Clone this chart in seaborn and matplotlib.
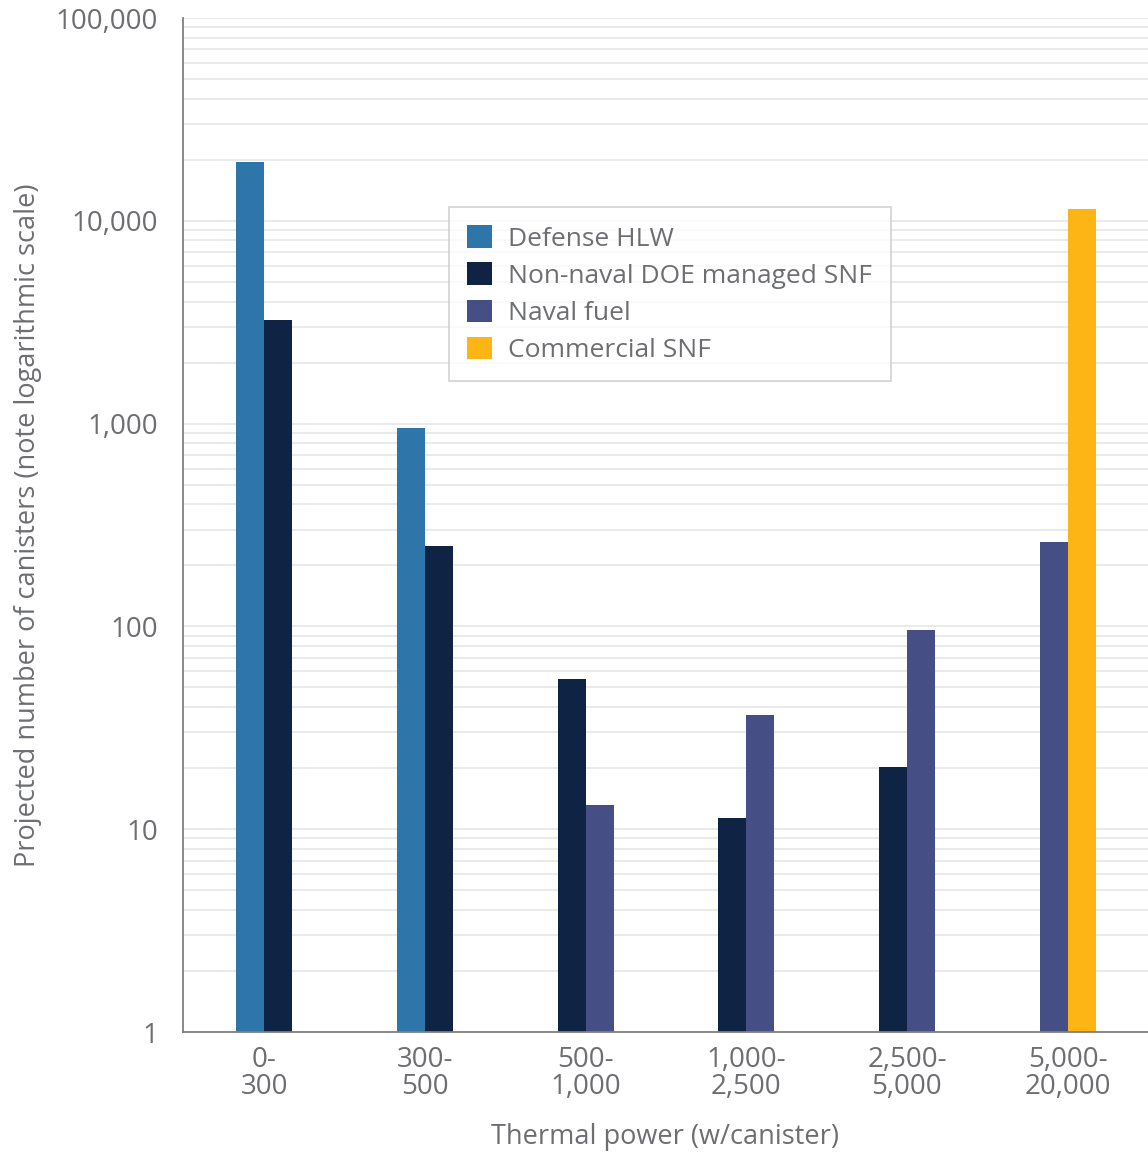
import pandas as pd
import numpy as np
import seaborn as sns
import matplotlib.pyplot as plt
from matplotlib.ticker import FixedLocator, LogLocator, FuncFormatter

# thermal power bins (w/canister)
bins = ['0-\n300', '300-\n500', '500-\n1,000', '1,000-\n2,500', '2,500-\n5,000', '5,000-\n20,000']
series = ['Defense HLW', 'Non-naval DOE managed SNF', 'Naval fuel', 'Commercial SNF']
colors = ['#2e75aa', '#0f2344', '#454f85', '#fdb515']

# values (None = no bar in that bin)
defense_hlw = [19600, 950, None, None, None, None]
non_naval = [3250, 250, 55, 11.3, 20.2, None]
naval = [None, None, 13.1, 36.4, 96, 261]
commercial = [None, None, None, None, None, 11400]

gray = '#6d6e71'
sns.set_style('white')
plt.rcParams['font.family'] = ['Open Sans', 'DejaVu Sans']

# long table, only bars that exist; each bin holds two bars side by side
rows = []
for i in range(len(bins)):
    present = [(s, v[i]) for s, v in zip(series, [defense_hlw, non_naval, naval, commercial]) if v[i] is not None]
    offs = np.linspace(-0.087, 0.087, len(present)) if len(present) > 1 else [0]
    for (s, val), o in zip(present, offs):
        rows.append({'pos': i + o, 'series': s, 'count': val})
df = pd.DataFrame(rows)

fig = plt.figure(figsize=(11.48, 11.54), dpi=100)
ax = fig.add_axes([0.1594, 0.1057, 0.8406, 0.8787])
ax.set_axisbelow(True)

sns.barplot(data=df, x='pos', y='count', hue='series', hue_order=series,
            palette=colors, native_scale=True, dodge=False, width=1.0,
            saturation=1, linewidth=0, ax=ax)

ax.set_yscale('log')
ax.set_ylim(1, 100000)
ax.set_xlim(-0.505, 5.5)

# y axis: decades labelled, grid at major and minor steps
ax.yaxis.set_major_locator(LogLocator(base=10))
ax.yaxis.set_minor_locator(LogLocator(base=10, subs=np.arange(2, 10)))
ax.yaxis.set_major_formatter(FuncFormatter(lambda v, p: f'{v:,.0f}'))
ax.yaxis.set_minor_formatter(FuncFormatter(lambda v, p: ''))
ax.grid(True, axis='y', which='both', color='#e8e8e8', linewidth=1.3)
ax.tick_params(axis='y', which='both', length=0, pad=18, labelsize=20, labelcolor=gray)

# x axis: labels at bin centres, tick marks between bins
ax.xaxis.set_major_locator(FixedLocator(range(len(bins))))
ax.set_xticklabels(bins, linespacing=0.95)
ax.xaxis.set_minor_locator(FixedLocator(np.arange(0.5, len(bins) - 1, 1.0)))
ax.tick_params(axis='x', which='major', length=0, pad=10, labelsize=20, labelcolor=gray)
ax.tick_params(axis='x', which='minor', length=15, width=1.2, color='#808080', direction='out')

for side in ['top', 'right']:
    ax.spines[side].set_visible(False)
for side in ['left', 'bottom']:
    ax.spines[side].set_color('#808080')
    ax.spines[side].set_linewidth(1.3)

ax.set_xlabel('Thermal power (w/canister)', fontsize=19.5, color=gray, labelpad=16)
ax.set_ylabel('Projected number of canisters (note logarithmic scale)', fontsize=19.5, color=gray, labelpad=10)

leg = ax.legend(loc='upper left', bbox_to_anchor=(0.2756, 0.8136), fontsize=19,
                frameon=True, fancybox=False, edgecolor='#c8c8c8', labelcolor=gray,
                handlelength=0.95, handleheight=0.95, handletextpad=0.6,
                labelspacing=0.4, borderpad=0.7, borderaxespad=0)
leg.get_frame().set_linewidth(1.2)

fig.savefig('out.png', dpi=100)
